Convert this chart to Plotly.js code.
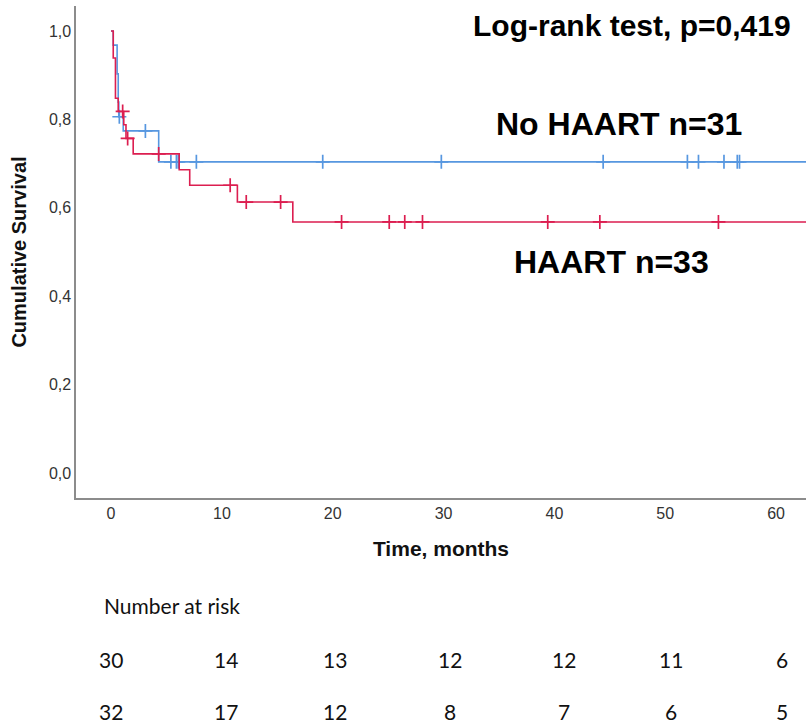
<!DOCTYPE html>
<html>
<head>
<meta charset="utf-8">
<script src="https://cdn.plot.ly/plotly-3.0.1.min.js"></script>
<style>html,body{margin:0;padding:0;background:#fff;}#chart{width:806px;height:726px;}</style>
</head>
<body>
<div id="chart"></div>
<script>
// ---- data ----
var noHaartEventTimes = [0, 0.2, 0.55, 0.65, 0.7, 1.1, 4.3];
var noHaartSurvival   = [1.0, 0.968, 0.903, 0.839, 0.806, 0.774, 0.704];
var noHaartCensored   = [0.75, 3.1, 5.4, 5.9, 6.07, 7.7, 19.1, 29.8, 44.4, 52.0, 53.0, 55.3, 56.5, 56.7];
var noHaartLastTime   = 63;

var haartEventTimes = [0, 0.2, 0.4, 0.65, 1.15, 1.35, 2.0, 6.15, 7.1, 11.4, 16.4];
var haartSurvival   = [1.0, 0.939, 0.848, 0.818, 0.788, 0.757, 0.722, 0.686, 0.651, 0.613, 0.568];
var haartCensored   = [1.05, 1.5, 4.3, 10.75, 12.2, 15.3, 20.8, 25.1, 26.5, 28.1, 39.4, 44.1, 54.8];
var haartLastTime   = 63;

var riskTimes     = [0, 10, 20, 30, 40, 50, 60];
var riskNoHaart   = [30, 14, 13, 12, 12, 11, 6];
var riskHaart     = [32, 17, 12, 8, 7, 6, 5];

var xTicks = [0, 10, 20, 30, 40, 50, 60];
var yTicks = [0, 0.2, 0.4, 0.6, 0.8, 1.0];

// ---- styling ----
var blue = '#5797e0';
var red  = '#dc1e50';

function survAt(times, surv, t) {
  var s = surv[0];
  for (var i = 0; i < times.length; i++) { if (times[i] <= t) s = surv[i]; }
  return s;
}
function stepTrace(times, surv, last, color) {
  return {
    x: times.concat([last]),
    y: surv.concat([surv[surv.length - 1]]),
    mode: 'lines', line: {shape: 'hv', color: color, width: 1.6},
    hoverinfo: 'skip', showlegend: false
  };
}
function censorTrace(times, surv, cens, color) {
  return {
    x: cens,
    y: cens.map(function (t) { return survAt(times, surv, t); }),
    mode: 'markers',
    marker: {symbol: 'cross-thin-open', size: 10, line: {color: color, width: 1.7}, color: color},
    hoverinfo: 'skip', showlegend: false
  };
}

var traces = [
  stepTrace(noHaartEventTimes, noHaartSurvival, noHaartLastTime, blue),
  censorTrace(noHaartEventTimes, noHaartSurvival, noHaartCensored, blue),
  stepTrace(haartEventTimes, haartSurvival, haartLastTime, red),
  censorTrace(haartEventTimes, haartSurvival, haartCensored, red)
];

var riskShift = [0, 4, 2, 6, 10, 6, 6];
var annotations = [
  {text: '<b>Log-rank test, p=0,419</b>', xref: 'paper', yref: 'paper', x: 0.7616, y: 0.961,
   xanchor: 'center', yanchor: 'middle', showarrow: false,
   font: {family: 'Liberation Sans, Arial, sans-serif', size: 30, color: '#000'}},
  {text: '<b>No HAART n=31</b>', xref: 'paper', yref: 'paper', x: 0.744, y: 0.760,
   xanchor: 'center', yanchor: 'middle', showarrow: false,
   font: {family: 'Liberation Sans, Arial, sans-serif', size: 32, color: '#000'}},
  {text: '<b>HAART n=33</b>', xref: 'paper', yref: 'paper', x: 0.734, y: 0.480,
   xanchor: 'center', yanchor: 'middle', showarrow: false,
   font: {family: 'Liberation Sans, Arial, sans-serif', size: 32, color: '#000'}},
  {text: 'Number at risk', xref: 'paper', yref: 'paper', x: (102 - 76) / 730, y: -0.2195,
   xanchor: 'left', yanchor: 'middle', showarrow: false,
   font: {family: 'Lato, sans-serif', size: 21, color: '#111'}}
];
riskTimes.forEach(function (t, i) {
  annotations.push({text: String(riskNoHaart[i]), xref: 'x', yref: 'paper', x: t, y: -0.329,
    xshift: riskShift[i], xanchor: 'center', yanchor: 'middle', showarrow: false,
    font: {family: 'Lato, sans-serif', size: 21, color: '#111'}});
  annotations.push({text: String(riskHaart[i]), xref: 'x', yref: 'paper', x: t, y: -0.433,
    xshift: riskShift[i], xanchor: 'center', yanchor: 'middle', showarrow: false,
    font: {family: 'Lato, sans-serif', size: 21, color: '#111'}});
});

var layout = {
  width: 806, height: 726,
  margin: {l: 76, r: 0, t: 6, b: 228},
  paper_bgcolor: '#fff', plot_bgcolor: '#fff',
  separators: ', ',
  showlegend: false,
  xaxis: {
    range: [-3.16, 62.7], tickvals: xTicks, ticks: '', showgrid: false, zeroline: false,
    showline: true, linecolor: '#8c8c8c', linewidth: 1.6,
    tickfont: {family: 'Liberation Sans Narrow, Liberation Sans, Arial, sans-serif', size: 16, color: '#333'},
    title: {text: '<b>Time, months</b>', standoff: 20,
            font: {family: 'Liberation Sans Narrow, Liberation Sans, Arial, sans-serif', size: 21, color: '#111'}}
  },
  yaxis: {
    range: [-0.0566, 1.0566], tickvals: yTicks, tickformat: '.1f', ticks: '', showgrid: false, zeroline: false,
    showline: true, linecolor: '#8c8c8c', linewidth: 1.6,
    tickfont: {family: 'Liberation Sans Narrow, Liberation Sans, Arial, sans-serif', size: 16, color: '#333'},
    title: {text: '<b>Cumulative Survival</b>', standoff: 17,
            font: {family: 'Liberation Sans Narrow, Liberation Sans, Arial, sans-serif', size: 20, color: '#111'}}
  },
  annotations: annotations
};

Plotly.newPlot('chart', traces, layout, {displayModeBar: false, staticPlot: true});
</script>
</body>
</html>
